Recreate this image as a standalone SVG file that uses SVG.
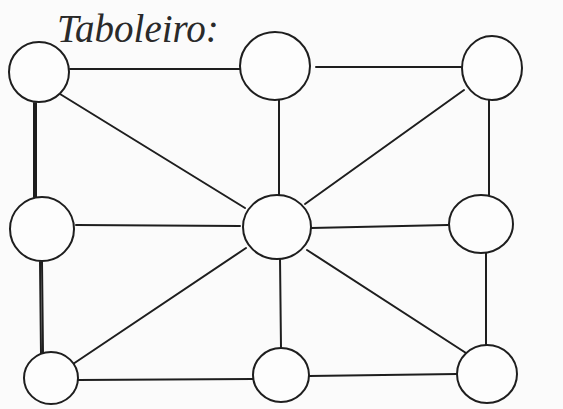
<svg xmlns="http://www.w3.org/2000/svg" width="563" height="409" viewBox="0 0 563 409">
<style>
.n{fill:#fdfdfd;stroke:#1e1e1e;stroke-width:2}
.e{stroke:#1e1e1e;stroke-width:2;fill:none;stroke-linecap:round}
.t{font-family:"Liberation Serif","Times New Roman",serif;font-style:italic;font-size:39px;fill:#2a2a2a}
</style>
<rect width="563" height="409" fill="#fbfbfb"/>
<text class="t" x="57" y="42">Taboleiro:</text>
<g id="connectors">
<line class="e" x1="70" y1="69" x2="240" y2="69"/>
<line class="e" x1="316" y1="67" x2="461" y2="67"/>
<line class="e" x1="34" y1="103" x2="34" y2="197"/>
<line class="e" x1="36" y1="103" x2="36" y2="197"/>
<line class="e" x1="60" y1="94" x2="245" y2="208"/>
<line class="e" x1="279" y1="100" x2="279" y2="195"/>
<line class="e" x1="464" y1="90" x2="305" y2="204"/>
<line class="e" x1="489" y1="100" x2="489" y2="195"/>
<line class="e" x1="76" y1="225" x2="240" y2="226"/>
<line class="e" x1="311" y1="228" x2="448" y2="225"/>
<line class="e" x1="40" y1="262" x2="41" y2="354"/>
<line class="e" x1="42" y1="262" x2="43" y2="354"/>
<line class="e" x1="246" y1="248" x2="73" y2="364"/>
<line class="e" x1="280" y1="258" x2="281" y2="348"/>
<line class="e" x1="307" y1="250" x2="466" y2="353"/>
<line class="e" x1="486" y1="252" x2="486" y2="345"/>
<line class="e" x1="78" y1="380" x2="253" y2="379"/>
<line class="e" x1="309" y1="376" x2="457" y2="374"/>
</g>
<g id="n1"><ellipse class="n" cx="39" cy="72" rx="30" ry="30"/></g>
<g id="n2"><ellipse class="n" cx="275" cy="66" rx="35" ry="34"/></g>
<g id="n3"><ellipse class="n" cx="492" cy="68" rx="30" ry="32"/></g>
<g id="n4"><ellipse class="n" cx="42" cy="229" rx="32" ry="32"/></g>
<g id="n5"><ellipse class="n" cx="277" cy="227" rx="34" ry="32"/></g>
<g id="n6"><ellipse class="n" cx="481" cy="224" rx="32" ry="29"/></g>
<g id="n7"><ellipse class="n" cx="51" cy="378" rx="27" ry="26"/></g>
<g id="n8"><ellipse class="n" cx="281" cy="375" rx="28" ry="27"/></g>
<g id="n9"><ellipse class="n" cx="487" cy="374" rx="30" ry="29"/></g>
</svg>
